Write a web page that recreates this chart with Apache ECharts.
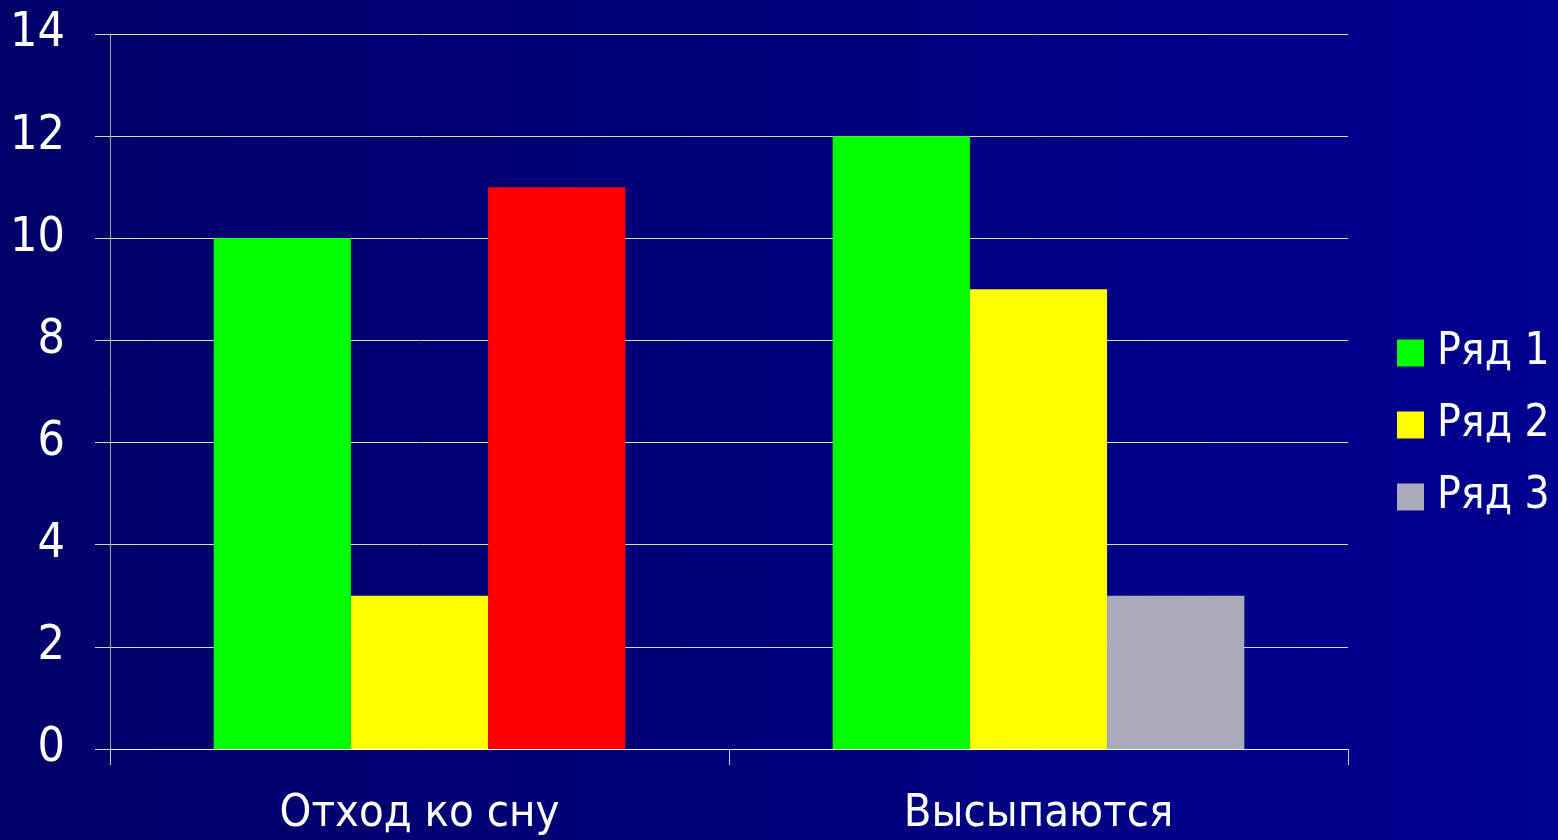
<!DOCTYPE html>
<html>
<head>
<meta charset="utf-8">
<script src="https://cdn.jsdelivr.net/npm/echarts@6/dist/echarts.min.js"></script>
<style>
  html, body { margin: 0; padding: 0; }
  #chart { width: 1558px; height: 840px; }
</style>
</head>
<body>
<div id="chart"></div>
<script>
// данные с картинки
const categories = ['Отход ко сну', 'Высыпаются']
const seriesNames = ['Ряд 1', 'Ряд 2', 'Ряд 3']
const row1 = [10, 12]
const row2 = [3, 9]
const row3 = [11, 3]
const yTicks = [0, 2, 4, 6, 8, 10, 12, 14]

const font = 'DejaVu Sans Condensed'
const colors = ['#00ff00', '#ffff00', '#aaaabb']

const chart = echarts.init(document.getElementById('chart'))

const option = {
  backgroundColor: {
    type: 'linear', x: 0, y: 0, x2: 1, y2: 0,
    colorStops: [
      { offset: 0, color: '#000068' },
      { offset: 1, color: '#000090' }
    ]
  },
  color: colors,
  animation: false,
  grid: { left: 110, right: 210, top: 34, bottom: 91 },
  legend: {
    orient: 'vertical',
    left: 1392,
    top: 326,
    itemWidth: 27,
    itemHeight: 27,
    itemGap: 28,
    icon: 'rect',
    data: seriesNames,
    textStyle: { color: '#fff', fontFamily: font, fontSize: 44, lineHeight: 44, padding: [0, 0, 0, 8] }
  },
  xAxis: {
    type: 'category',
    data: categories,
    axisLine: { lineStyle: { color: '#ffffff', width: 1 } },
    axisTick: { show: true, length: 16, lineStyle: { color: '#cccccc' } },
    axisLabel: { color: '#fff', fontFamily: font, fontSize: 45, margin: 43 }
  },
  yAxis: {
    type: 'value',
    min: yTicks[0],
    max: yTicks[yTicks.length - 1],
    interval: 2,
    axisLine: { show: true, lineStyle: { color: '#a0a0a0' } },
    axisTick: { show: true, length: 15, lineStyle: { color: '#d0d0d0' } },
    splitLine: { lineStyle: { color: '#d8d8d8', width: 1 } },
    axisLabel: { color: '#fff', fontFamily: font, fontSize: 48, margin: 45 }
  },
  series: [
    { name: seriesNames[0], type: 'bar', data: row1, barGap: 0, barCategoryGap: '33.5%' },
    { name: seriesNames[1], type: 'bar', data: row2, barGap: 0, barCategoryGap: '33.5%' },
    {
      name: seriesNames[2], type: 'bar', barGap: 0, barCategoryGap: '33.5%',
      // первый столбик ряда 3 на картинке красный
      data: row3.map((v, i) => i === 0 ? { value: v, itemStyle: { color: '#ff0000' } } : v)
    }
  ]
}

chart.setOption(option)
</script>
</body>
</html>
